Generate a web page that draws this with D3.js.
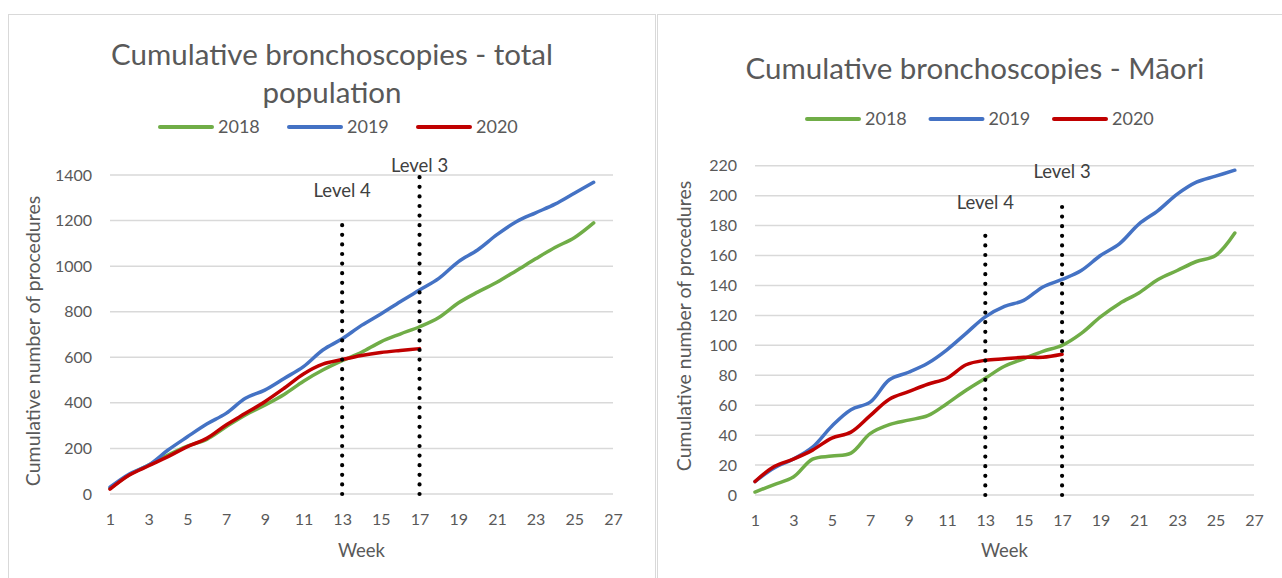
<!DOCTYPE html>
<html>
<head>
<meta charset="utf-8">
<script src="https://cdn.jsdelivr.net/npm/d3@7"></script>
<style>
  body { margin: 0; background: #fff; }
  svg { display: block; font-family: Lato, "Open Sans", sans-serif; }
</style>
</head>
<body>
<script>
// weeks on the x axis
const weeks = [1, 2, 3, 4, 5, 6, 7, 8, 9, 10, 11, 12, 13, 14, 15, 16, 17, 18, 19, 20, 21, 22, 23, 24, 25, 26];
const xTicks = [1, 3, 5, 7, 9, 11, 13, 15, 17, 19, 21, 23, 25, 27];
const seriesNames = ['2018', '2019', '2020'];
const seriesColors = ['#70ad47', '#4472c4', '#c00000'];

// total population
const total2018 = [25, 85, 127, 171, 210, 240, 295, 347, 390, 437, 495, 544, 585, 622, 668, 702, 734, 775, 838, 886, 929, 980, 1032, 1082, 1125, 1190];
const total2019 = [30, 88, 127, 193, 251, 307, 354, 420, 456, 507, 559, 632, 681, 740, 790, 844, 895, 946, 1019, 1071, 1138, 1195, 1234, 1272, 1320, 1368];
const total2020 = [21, 83, 124, 164, 208, 244, 303, 354, 405, 464, 527, 570, 590, 608, 621, 630, 638];
const totalYTicks = [0, 200, 400, 600, 800, 1000, 1200, 1400];
// alert levels: week, top of dotted line, label height (data units)
const totalLevels = [
  {week: 13, top: 1180, labelAt: 1303, label: 'Level 4'},
  {week: 17, top: 1395, labelAt: 1411, label: 'Level 3'}
];

// Maori
const maori2018 = [2, 7, 12, 24, 26, 28, 41, 47, 50, 53, 61, 70, 78, 86, 91, 96, 100, 108, 119, 128, 135, 144, 150, 156, 160, 175];
const maori2019 = [9, 18, 24, 32, 46, 57, 62, 77, 82, 88, 97, 108, 119, 126, 130, 139, 144, 150, 160, 168, 181, 190, 201, 209, 213, 217];
const maori2020 = [9, 19, 24, 30, 38, 42, 53, 64, 69, 74, 78, 87, 90, 91, 92, 92, 94];
const maoriYTicks = [0, 20, 40, 60, 80, 100, 120, 140, 160, 180, 200, 220];
const maoriLevels = [
  {week: 13, top: 174, labelAt: 191, label: 'Level 4'},
  {week: 17, top: 193, labelAt: 212, label: 'Level 3'}
];

const textColor = '#595959';
const gridColor = '#d9d9d9';

const svg = d3.select('body').append('svg')
  .attr('width', 1282)
  .attr('height', 578);

// chart frames
svg.append('rect')
  .attr('x', 8.5).attr('y', 14.5)
  .attr('width', 647).attr('height', 620)
  .attr('fill', 'none').attr('stroke', gridColor);
svg.append('rect')
  .attr('x', 657.5).attr('y', 14.5)
  .attr('width', 700).attr('height', 620)
  .attr('fill', 'none').attr('stroke', gridColor);

function drawChart(cfg) {
  const g = svg.append('g');

  const x = d3.scaleLinear()
    .domain([xTicks[0], xTicks[xTicks.length - 1]])
    .range([cfg.plot.left, cfg.plot.right]);
  const y = d3.scaleLinear()
    .domain([0, cfg.yTicks[cfg.yTicks.length - 1]])
    .range([cfg.plot.bottom, cfg.plot.top]);

  // gridlines
  g.append('g')
    .selectAll('line')
    .data(cfg.yTicks)
    .join('line')
    .attr('x1', cfg.plot.left)
    .attr('x2', cfg.plot.right)
    .attr('y1', d => y(d))
    .attr('y2', d => y(d))
    .attr('stroke', gridColor)
    .attr('stroke-width', 1.5);

  // axes
  const yAxis = g.append('g')
    .attr('transform', `translate(${cfg.plot.left},0)`)
    .call(d3.axisLeft(y).tickValues(cfg.yTicks).tickFormat(d3.format('d')).tickSize(0).tickPadding(18));
  const xAxis = g.append('g')
    .attr('transform', `translate(0,${cfg.plot.bottom})`)
    .call(d3.axisBottom(x).tickValues(xTicks).tickFormat(d3.format('d')).tickSize(0).tickPadding(20));
  [yAxis, xAxis].forEach(a => {
    a.select('.domain').remove();
    a.selectAll('text')
      .attr('fill', textColor)
      .style('font-size', '16px')
      .style('font-family', 'Lato, sans-serif');
  });

  // lines
  const line = d3.line()
    .x((d, i) => x(weeks[i]))
    .y(d => y(d))
    .curve(d3.curveCatmullRom);

  g.append('g')
    .selectAll('path')
    .data(cfg.series)
    .join('path')
    .attr('d', d => line(d))
    .attr('fill', 'none')
    .attr('stroke', (d, i) => seriesColors[i])
    .attr('stroke-width', 3.5)
    .attr('stroke-linecap', 'round')
    .attr('stroke-linejoin', 'round');

  // alert level markers
  const lv = g.append('g')
    .selectAll('g')
    .data(cfg.levels)
    .join('g');
  lv.append('line')
    .attr('x1', d => x(d.week))
    .attr('x2', d => x(d.week))
    .attr('y1', y(0))
    .attr('y2', d => y(d.top))
    .attr('stroke', '#000')
    .attr('stroke-width', 4.2)
    .attr('stroke-linecap', 'round')
    .attr('stroke-dasharray', '0 9.6');
  lv.append('text')
    .attr('x', d => x(d.week))
    .attr('y', d => y(d.labelAt))
    .attr('text-anchor', 'middle')
    .attr('fill', '#404040')
    .style('font-size', '18.5px')
    .text(d => d.label);

  // title
  g.append('text')
    .attr('text-anchor', 'middle')
    .attr('fill', textColor)
    .style('font-size', '29.5px')
    .selectAll('tspan')
    .data(cfg.title)
    .join('tspan')
    .attr('x', cfg.titleX)
    .attr('y', (d, i) => cfg.titleY + i * 38)
    .text(d => d);

  // legend
  const leg = g.append('g')
    .selectAll('g')
    .data(seriesNames)
    .join('g')
    .attr('transform', (d, i) => `translate(${cfg.legendX + i * cfg.legendStep},${cfg.legendY})`);
  leg.append('line')
    .attr('x1', 0).attr('x2', 52)
    .attr('stroke', (d, i) => seriesColors[i])
    .attr('stroke-width', 4)
    .attr('stroke-linecap', 'round');
  leg.append('text')
    .attr('x', 58)
    .attr('dy', '0.36em')
    .attr('fill', textColor)
    .style('font-size', '18px')
    .text(d => d);

  // axis titles
  g.append('text')
    .attr('transform', `translate(${cfg.yTitleX},${cfg.yTitleY}) rotate(-90)`)
    .attr('text-anchor', 'middle')
    .attr('dy', '0.35em')
    .attr('fill', textColor)
    .style('font-size', '19.5px')
    .text('Cumulative number of procedures');
  g.append('text')
    .attr('x', (cfg.plot.left + cfg.plot.right) / 2)
    .attr('y', 557)
    .attr('text-anchor', 'middle')
    .attr('fill', textColor)
    .style('font-size', '18.5px')
    .text('Week');
}

drawChart({
  title: ['Cumulative bronchoscopies - total', 'population'],
  titleX: 332, titleY: 65,
  legendX: 160, legendY: 127, legendStep: 129,
  plot: {left: 110, right: 613, top: 175, bottom: 494},
  yTicks: totalYTicks,
  series: [total2018, total2019, total2020],
  levels: totalLevels,
  yTitleX: 33, yTitleY: 341
});

drawChart({
  title: ['Cumulative bronchoscopies - Māori'],
  titleX: 975, titleY: 79,
  legendX: 807, legendY: 119, legendStep: 123.5,
  plot: {left: 755, right: 1254, top: 165.7, bottom: 495},
  yTicks: maoriYTicks,
  series: [maori2018, maori2019, maori2020],
  levels: maoriLevels,
  yTitleX: 684, yTitleY: 326
});
</script>
</body>
</html>
